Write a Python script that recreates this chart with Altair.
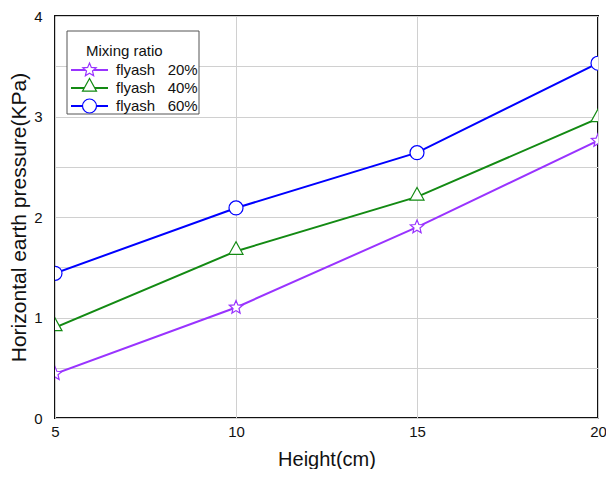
import altair as alt
import pandas as pd

heights = [5, 10, 15, 20]
series = ["flyash\u00a0\u00a0\u00a020%", "flyash\u00a0\u00a0\u00a040%", "flyash\u00a0\u00a0\u00a060%"]
p20 = [0.44, 1.10, 1.90, 2.76]
p40 = [0.90, 1.66, 2.20, 2.98]
p60 = [1.44, 2.09, 2.64, 3.53]
colors = ["#9933FF", "#138A13", "#0000FF"]
legend_title = ["Mixing ratio"]

rows = []
for s, vals in zip(series, [p20, p40, p60]):
    for h, v in zip(heights, vals):
        rows.append({"height": h, "pressure": v, "series": s})
df = pd.DataFrame(rows)
leg = pd.DataFrame({"series": series, "row": list(range(len(series)))})
leg_title = pd.DataFrame({"t": legend_title})

STAR = ("M0,-1L0.265,-0.364L0.951,-0.309L0.428,0.139L0.588,0.809L0,0.45"
        "L-0.588,0.809L-0.428,0.139L-0.951,-0.309L-0.265,-0.364Z")
TRI = "M0,-1.35L-1,0.45L1,0.45Z"
CIRC = "M1,0A1,1,0,1,1,-1,0A1,1,0,1,1,1,0Z"
plot_shapes = [STAR, TRI, CIRC]

FONT = "Liberation Sans"

x = alt.X("height:Q", scale=alt.Scale(domain=[5, 20], nice=False, zero=False),
          axis=alt.Axis(values=heights, title="Height(cm)", grid=True,
                        gridColor="#d0d0d0", gridWidth=1, ticks=False, domain=False,
                        labelFontSize=15, labelPadding=6, labelFlush=False,
                        labelColor="#111", titleFontSize=20, titleFontWeight="normal",
                        titlePadding=10, titleColor="#111", labelFont=FONT, titleFont=FONT))
y = alt.Y("pressure:Q", scale=alt.Scale(domain=[0, 4], nice=False),
          axis=alt.Axis(values=[0, 0.5, 1, 1.5, 2, 2.5, 3, 3.5, 4],
                        labelExpr="datum.value % 1 == 0 ? format(datum.value, 'd') : ''",
                        title="Horizontal earth pressure(KPa)", grid=True,
                        gridColor="#d0d0d0", gridWidth=1, ticks=False, domain=False,
                        labelFontSize=15, labelPadding=13, labelFlush=False,
                        labelOverlap=False, labelColor="#111",
                        titleFontSize=21, titleFontWeight="normal", titlePadding=4,
                        titleColor="#111", labelFont=FONT, titleFont=FONT))

cscale = alt.Scale(domain=series, range=colors)
color = alt.Color("series:N", scale=cscale, legend=None)

base = alt.Chart(df)

lines = base.mark_line(strokeWidth=2, clip=True).encode(
    x=x, y=y, color=color, order=alt.Order("height:Q"))

point_layers = []
for s, shp in zip(series, plot_shapes):
    point_layers.append(
        base.transform_filter(alt.datum.series == s)
        .mark_point(shape=shp, size=196, fill="white", filled=False, fillOpacity=1,
                    strokeWidth=1.2, opacity=1, clip=True)
        .encode(x=x, y=y, color=color)
    )

plot = alt.layer(lines, *point_layers)

# legend drawn as marks (positions in pixels relative to the plot area)
ly = alt.Y("row:Q", scale=alt.Scale(domain=[0, 2], range=[54, 90]), axis=None)
lbase = alt.Chart(leg)

box = alt.Chart(leg_title).mark_rect(fill="white", stroke="#555", strokeWidth=1).encode(
    x=alt.value(12), x2=alt.value(144), y=alt.value(15), y2=alt.value(98))
ltitle = alt.Chart(leg_title).mark_text(align="left", baseline="alphabetic", fontSize=15,
                                        font=FONT, color="#111").encode(
    x=alt.value(31), y=alt.value(39.5), text="t:N")
lrules = lbase.mark_rule(strokeWidth=2).encode(
    x=alt.value(16), x2=alt.value(53), y=ly, color=color)
lpoints = lbase.mark_point(size=196, fill="white", filled=False, fillOpacity=1,
                           strokeWidth=1.2, opacity=1).encode(
    x=alt.value(34.5), y=ly, color=color,
    shape=alt.Shape("series:N", scale=alt.Scale(domain=series, range=plot_shapes),
                    legend=None))
llabels = lbase.mark_text(align="left", baseline="middle", fontSize=15, font=FONT,
                          color="#111").encode(
    x=alt.value(61), y=ly, text="series:N")

legend = alt.layer(box, ltitle, lrules, lpoints, llabels)

chart = alt.layer(plot, legend).resolve_scale(y="independent").properties(
    width=543, height=402,
    autosize=alt.AutoSizeParams(type="none"),
    padding={"left": 47, "top": 8, "right": 8, "bottom": 51},
).configure_view(stroke="#111", strokeWidth=2)

chart.save("out.html", embed_options={"renderer": "svg", "actions": False})
